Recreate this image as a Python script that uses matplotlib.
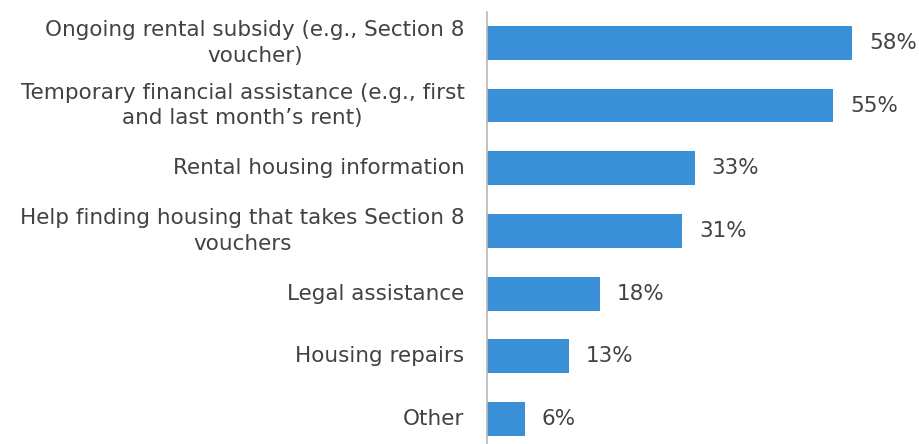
import matplotlib
matplotlib.use('Agg')
import matplotlib.pyplot as plt

# Housing help needed, share of respondents
categories = [
    'Ongoing rental subsidy (e.g., Section 8\nvoucher)',
    'Temporary financial assistance (e.g., first\nand last month\u2019s rent)',
    'Rental housing information',
    'Help finding housing that takes Section 8\nvouchers',
    'Legal assistance',
    'Housing repairs',
    'Other',
]
percents = [58, 55, 33, 31, 18, 13, 6]

BAR_COLOR = '#3a90d6'
TEXT_COLOR = '#424242'
FONT_SIZE = 15.5

fig = plt.figure(figsize=(9.2, 4.44), dpi=100)
ax = fig.add_axes([0.529, 0.0, 0.466, 0.974])

y = list(range(len(categories)))
ax.barh(y, percents, height=0.54, color=BAR_COLOR)

for yi, p in zip(y, percents):
    ax.text(p + 2.7, yi, f'{p}%', va='center', ha='left',
            fontsize=FONT_SIZE, color=TEXT_COLOR)

ax.set_yticks(y)
ax.set_yticklabels(categories, fontsize=FONT_SIZE, color=TEXT_COLOR,
                   multialignment='center', linespacing=1.35, va='center')
ax.tick_params(axis='y', length=0, pad=16)
ax.set_xticks([])

ax.set_xlim(0, 68)
ax.set_ylim(6.4, -0.5)

for side in ('top', 'right', 'bottom'):
    ax.spines[side].set_visible(False)
ax.spines['left'].set_color('#b8b8b8')
ax.spines['left'].set_linewidth(1.2)

fig.savefig('out.png', dpi=100)
plt.close(fig)
